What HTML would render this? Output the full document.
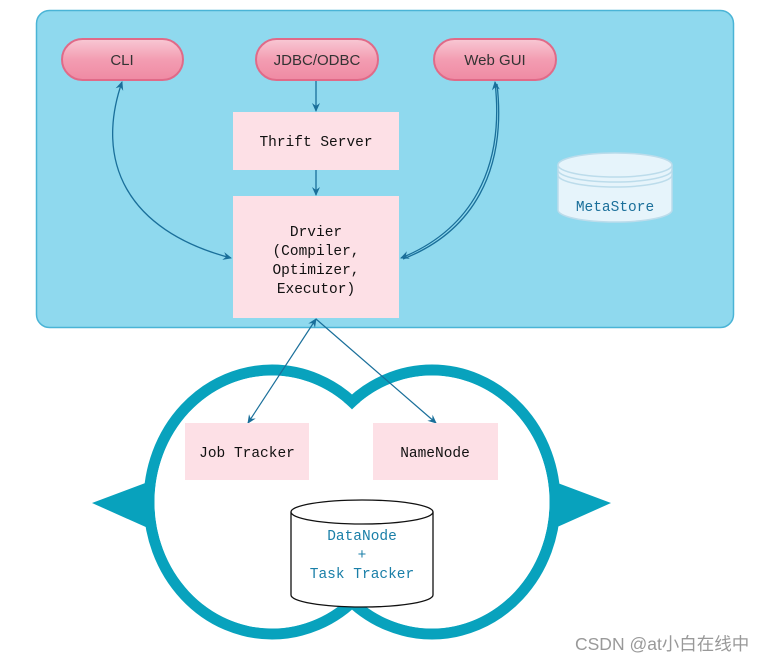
<!DOCTYPE html>
<html><head><meta charset="utf-8"><style>
html,body{margin:0;padding:0;background:#fff;}
svg{display:block;}
.m{font-family:"Liberation Mono","Noto Sans CJK SC",monospace;font-size:14.5px;fill:#111;}
.s{font-family:"Liberation Sans",sans-serif;font-size:15px;fill:#333;}
</style></head><body>
<svg width="776" height="663" viewBox="0 0 776 663" xmlns="http://www.w3.org/2000/svg">
<defs>
<marker id="a" markerWidth="10" markerHeight="10" refX="8" refY="5" orient="auto-start-reverse" markerUnits="userSpaceOnUse">
<path d="M0,1 L9,5 L0,9 L3,5 Z" fill="#1a6f9a"/></marker>
<linearGradient id="p" x1="0" y1="0" x2="0" y2="1"><stop offset="0" stop-color="#f8c8d4"/><stop offset="0.5" stop-color="#f39db2"/><stop offset="1" stop-color="#ef8aa3"/></linearGradient>
</defs>
<rect x="36.5" y="10.5" width="697" height="317" rx="13" fill="#8fd9ee" stroke="#4ab4d6" stroke-width="1.5"/>
<g stroke="#e06a88" stroke-width="2" fill="url(#p)">
<rect x="62" y="39" width="121" height="41" rx="20.5"/>
<rect x="256" y="39" width="122" height="41" rx="20.5"/>
<rect x="434" y="39" width="122" height="41" rx="20.5"/>
</g>
<text class="s" x="122" y="65" text-anchor="middle">CLI</text>
<text class="s" x="317" y="65" text-anchor="middle">JDBC/ODBC</text>
<text class="s" x="495" y="65" text-anchor="middle">Web GUI</text>
<rect x="233" y="112" width="166" height="58" fill="#fde0e6"/>
<text class="m" x="316" y="146" text-anchor="middle">Thrift Server</text>
<rect x="233" y="196" width="166" height="122" fill="#fde0e6"/>
<text class="m" x="316" y="236" text-anchor="middle">Drvier</text>
<text class="m" x="316" y="255" text-anchor="middle">(Compiler,</text>
<text class="m" x="316" y="274" text-anchor="middle">Optimizer,</text>
<text class="m" x="316" y="293" text-anchor="middle">Executor)</text>
<g stroke="#1a6f9a" stroke-width="1.3" fill="none">
<line x1="316" y1="81" x2="316" y2="111" marker-end="url(#a)"/>
<line x1="316" y1="170" x2="316" y2="195" marker-end="url(#a)"/>
<path d="M122,82 C95,160 125,230 231,258" marker-start="url(#a)" marker-end="url(#a)"/>
<path d="M495,82 C505,170 470,230 401,258" marker-start="url(#a)" marker-end="url(#a)"/>
<path d="M497,84 C507,172 472,232 403,259"/>
</g>
<g stroke="#bcdceb" stroke-width="1.5" fill="#e6f4fb">
<path d="M558,165 L558,210 A57,12 0 0 0 672,210 L672,165"/>
<ellipse cx="615" cy="165" rx="57" ry="12"/>
<path d="M558,170 A57,12 0 0 0 672,170 M558,175 A57,12 0 0 0 672,175" fill="none"/>
</g>
<text class="m" x="615" y="211" text-anchor="middle" style="fill:#1a6f9a">MetaStore</text>
<polygon points="92,503 148,482 148,528" fill="#08a2bd"/>
<polygon points="611,503 555,482 555,528" fill="#08a2bd"/>
<g fill="none" stroke="#08a2bd" stroke-width="11">
<ellipse cx="272" cy="502" rx="123" ry="132"/>
<ellipse cx="432" cy="502" rx="123" ry="132"/>
</g>
<g fill="#fff">
<ellipse cx="272" cy="502" rx="117.5" ry="126.5"/>
<ellipse cx="432" cy="502" rx="117.5" ry="126.5"/>
</g>
<g stroke="#1a6f9a" stroke-width="1.2" fill="none">
<line x1="316" y1="319" x2="248" y2="423" marker-start="url(#a)" marker-end="url(#a)"/>
<line x1="316" y1="319" x2="436" y2="423" marker-end="url(#a)"/>
</g>
<rect x="185" y="423" width="124" height="57" fill="#fde0e6"/>
<text class="m" x="247" y="457" text-anchor="middle">Job Tracker</text>
<rect x="373" y="423" width="125" height="57" fill="#fde0e6"/>
<text class="m" x="435" y="457" text-anchor="middle">NameNode</text>
<g stroke="#111" stroke-width="1.3" fill="#fff">
<path d="M291,512 L291,595 A71,12 0 0 0 433,595 L433,512"/>
<ellipse cx="362" cy="512" rx="71" ry="12"/>
</g>
<text class="m" x="362" y="540" text-anchor="middle" style="fill:#1a7fa8">DataNode</text>
<text class="m" x="362" y="559" text-anchor="middle" style="fill:#1a7fa8">+</text>
<text class="m" x="362" y="578" text-anchor="middle" style="fill:#1a7fa8">Task Tracker</text>
<text x="575" y="650" style="font-family:'Liberation Sans','Noto Sans CJK SC',sans-serif;font-size:17.5px;fill:#999">CSDN @at小白在线中</text>
</svg>
</body></html>
